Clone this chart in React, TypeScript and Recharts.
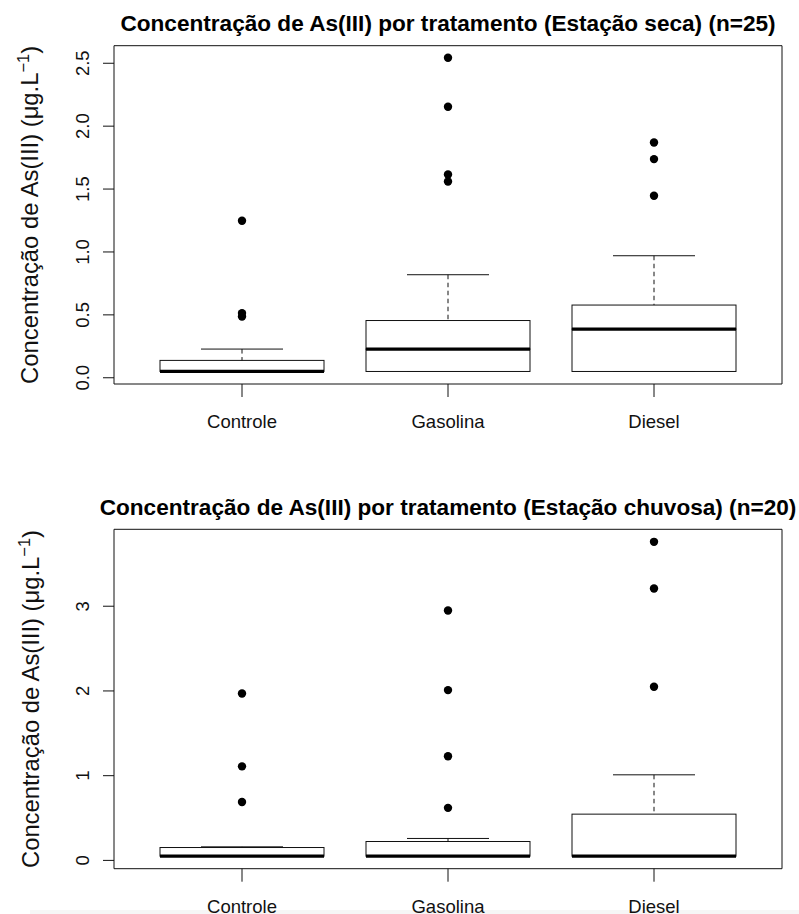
import { Bar, ComposedChart, Scatter, XAxis, YAxis } from "recharts";

const CATEGORIES = ["Controle", "Gasolina", "Diesel"];

// Estação seca (n=25)
const SECA_MIN = [0.05, 0.05, 0.05];
const SECA_Q1 = [0.05, 0.05, 0.05];
const SECA_MEDIAN = [0.05, 0.228, 0.387];
const SECA_Q3 = [0.138, 0.455, 0.578];
const SECA_MAX = [0.228, 0.819, 0.97];
const SECA_OUTLIERS = [
  [1.248, 0.514, 0.487],
  [2.544, 2.154, 1.616, 1.56],
  [1.87, 1.738, 1.447],
];
const SECA_TICKS = [0, 0.5, 1, 1.5, 2, 2.5];

// Estação chuvosa (n=20)
const CHUVA_MIN = [0.05, 0.05, 0.05];
const CHUVA_Q1 = [0.05, 0.05, 0.05];
const CHUVA_MEDIAN = [0.05, 0.05, 0.05];
const CHUVA_Q3 = [0.152, 0.223, 0.546];
const CHUVA_MAX = [0.16, 0.259, 1.01];
const CHUVA_OUTLIERS = [
  [1.97, 1.11, 0.69],
  [2.95, 2.01, 1.23, 0.62],
  [3.76, 3.21, 2.05],
];
const CHUVA_TICKS = [0, 1, 2, 3];

const FONT = "'Liberation Sans', Arial, Helvetica, sans-serif";
const INK = "#111";
const WIDTH = 799;
const PANEL_H = 457;
const PLOT_LEFT = 114;
const PLOT_RIGHT = 782;

function buildRows(min: number[], q1: number[], med: number[], q3: number[], max: number[]) {
  return CATEGORIES.map((name, i) => ({
    name,
    base: min[i],
    lowWhisker: q1[i] - min[i],
    lowBox: med[i] - q1[i],
    highBox: q3[i] - med[i],
    highWhisker: max[i] - q3[i],
  }));
}

function buildOutliers(out: number[][]) {
  return out.flatMap((vals, i) => vals.map((value) => ({ name: CATEGORIES[i], value })));
}

const Empty = () => <g />;

const LowWhisker = (p: any) => {
  const cx = p.x + p.width / 2;
  const bottom = p.y + Math.abs(p.height);
  return (
    <g>
      <line x1={cx} x2={cx} y1={p.y} y2={bottom} stroke={INK} strokeDasharray="4.5 3.5" />
      <line x1={cx - p.width / 4} x2={cx + p.width / 4} y1={bottom} y2={bottom} stroke={INK} />
    </g>
  );
};

const HighWhisker = (p: any) => {
  const cx = p.x + p.width / 2;
  const bottom = p.y + Math.abs(p.height);
  return (
    <g>
      <line x1={cx} x2={cx} y1={p.y} y2={bottom} stroke={INK} strokeDasharray="4.5 3.5" />
      <line x1={cx - p.width / 4} x2={cx + p.width / 4} y1={p.y} y2={p.y} stroke={INK} />
    </g>
  );
};

const BoxHalf = (p: any) => (
  <rect x={p.x} y={p.y} width={p.width} height={Math.abs(p.height)} fill="#fff" stroke={INK} />
);

const BoxUpper = (p: any) => {
  const bottom = p.y + Math.abs(p.height);
  return (
    <g>
      <rect x={p.x} y={p.y} width={p.width} height={Math.abs(p.height)} fill="#fff" stroke={INK} />
      <line x1={p.x} x2={p.x + p.width} y1={bottom} y2={bottom} stroke="#000" strokeWidth={3.2} />
    </g>
  );
};

const Dot = (p: any) => <circle cx={p.cx} cy={p.cy} r={4.2} fill="#000" />;

const YTick = (p: any) => {
  const bx = p.x - 14;
  return (
    <text
      x={bx}
      y={p.y}
      transform={`rotate(-90, ${bx}, ${p.y})`}
      textAnchor="middle"
      fontSize={18.5}
      fontFamily={FONT}
      fill={INK}
    >
      {p.digits ? Number(p.payload.value).toFixed(p.digits) : p.payload.value}
    </text>
  );
};

const XTick = (p: any) => (
  <text x={p.x} y={p.y + 31} textAnchor="middle" fontSize={18.5} fontFamily={FONT} fill={INK}>
    {p.payload.value}
  </text>
);

interface PanelProps {
  title: string;
  rows: ReturnType<typeof buildRows>;
  outliers: { name: string; value: number }[];
  domain: [number, number];
  ticks: number[];
  digits: number;
  plotTop: number;
  plotBottom: number;
}

function BoxPanel({ title, rows, outliers, domain, ticks, digits, plotTop, plotBottom }: PanelProps) {
  return (
    <ComposedChart
      width={WIDTH}
      height={PANEL_H}
      data={rows}
      margin={{ top: plotTop - 1, right: WIDTH - PLOT_RIGHT - 1, bottom: 0, left: 0 }}
      barSize={164}
    >
      <XAxis
        dataKey="name"
        type="category"
        allowDuplicatedCategory={false}
        padding={{ left: 25, right: 25 }}
        height={PANEL_H - plotBottom}
        tickSize={13}
        tickMargin={0}
        tickLine={{ stroke: INK }}
        axisLine={{ stroke: INK }}
        tick={(p: any) => <XTick {...p} />}
        interval={0}
      />
      {/* top edge of the frame, carries the title */}
      <XAxis
        xAxisId="frame"
        type="number"
        domain={[0, 1]}
        orientation="top"
        height={1}
        tick={false}
        tickLine={false}
        axisLine={{ stroke: INK }}
        label={(p: any) => {
          const vb = p.viewBox;
          return (
            <text
              x={vb.x + vb.width / 2}
              y={vb.y + vb.height - 14.7}
              textAnchor="middle"
              fontSize={22.6}
              fontWeight="bold"
              fontFamily={FONT}
              fill="#000"
            >
              {title}
            </text>
          );
        }}
      />
      <YAxis
        type="number"
        domain={domain}
        allowDataOverflow
        ticks={ticks}
        interval={0}
        width={PLOT_LEFT}
        tickSize={11}
        tickMargin={0}
        tickLine={{ stroke: INK }}
        axisLine={{ stroke: INK }}
        tick={(p: any) => <YTick {...p} digits={digits} />}
        label={(p: any) => {
          const vb = p.viewBox;
          const bx = 38.5;
          const cy = vb.y + vb.height / 2;
          return (
            <text
              x={bx}
              y={cy}
              transform={`rotate(-90, ${bx}, ${cy})`}
              textAnchor="middle"
              fontSize={23.8}
              fontFamily={FONT}
              fill={INK}
            >
              Concentração de As(III) (μg.L
              <tspan dy={-9} fontSize={16.5}>
                −1
              </tspan>
              <tspan dy={9}>)</tspan>
            </text>
          );
        }}
      />
      {/* right edge of the frame */}
      <YAxis
        yAxisId="frame"
        orientation="right"
        type="number"
        domain={[0, 1]}
        width={1}
        tick={false}
        tickLine={false}
        axisLine={{ stroke: INK }}
      />
      <Bar dataKey="base" stackId="box" shape={Empty} isAnimationActive={false} />
      <Bar dataKey="lowWhisker" stackId="box" shape={LowWhisker} isAnimationActive={false} />
      <Bar dataKey="lowBox" stackId="box" shape={BoxHalf} isAnimationActive={false} />
      <Bar dataKey="highBox" stackId="box" shape={BoxUpper} isAnimationActive={false} />
      <Bar dataKey="highWhisker" stackId="box" shape={HighWhisker} isAnimationActive={false} />
      <Scatter data={outliers} dataKey="value" shape={Dot} isAnimationActive={false} />
    </ComposedChart>
  );
}

export default function App() {
  return (
    <div
      style={{
        position: "absolute",
        left: 0,
        top: 0,
        width: WIDTH,
        height: 914,
        background: "#fff",
        overflow: "hidden",
      }}
    >
      <div
        style={{ position: "absolute", left: 30, top: 910, width: WIDTH - 30, height: 4, background: "#f6f6f6" }}
      />
      <div style={{ position: "relative" }}>
        <BoxPanel
          title="Concentração de As(III) por tratamento (Estação seca) (n=25)"
          rows={buildRows(SECA_MIN, SECA_Q1, SECA_MEDIAN, SECA_Q3, SECA_MAX)}
          outliers={buildOutliers(SECA_OUTLIERS)}
          domain={[-0.0496, 2.6396]}
          ticks={SECA_TICKS}
          digits={1}
          plotTop={45.7}
          plotBottom={384}
        />
        <BoxPanel
          title="Concentração de As(III) por tratamento (Estação chuvosa) (n=20)"
          rows={buildRows(CHUVA_MIN, CHUVA_Q1, CHUVA_MEDIAN, CHUVA_Q3, CHUVA_MAX)}
          outliers={buildOutliers(CHUVA_OUTLIERS)}
          domain={[-0.098, 3.908]}
          ticks={CHUVA_TICKS}
          digits={0}
          plotTop={72.3}
          plotBottom={411.7}
        />
      </div>
    </div>
  );
}
